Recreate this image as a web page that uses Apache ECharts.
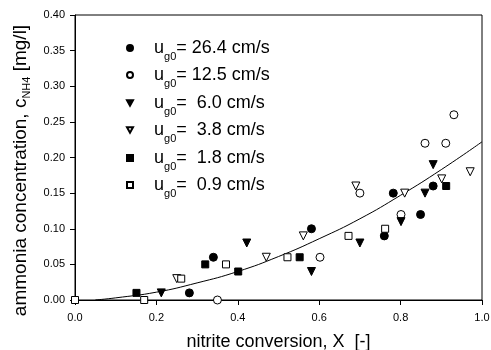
<!DOCTYPE html>
<html>
<head>
<meta charset="utf-8">
<script src="https://cdn.jsdelivr.net/npm/echarts@6/dist/echarts.min.js"></script>
<style>
  html, body { margin: 0; padding: 0; background: #fff; }
  #chart { width: 491px; height: 350px; }
</style>
</head>
<body>
<div id="chart"></div>
<script>
// measured points, one pair of arrays per gas velocity
const x264 = [0.281, 0.34, 0.581, 0.76, 0.782, 0.849, 0.88];
const y264 = [0.01, 0.06, 0.10, 0.09, 0.15, 0.12, 0.16];

const x125 = [0.35, 0.602, 0.70, 0.801, 0.86, 0.911, 0.931];
const y125 = [0.0, 0.06, 0.15, 0.12, 0.22, 0.22, 0.26];

const x60 = [0.212, 0.422, 0.581, 0.70, 0.801, 0.86, 0.88];
const y60 = [0.01, 0.08, 0.04, 0.08, 0.11, 0.15, 0.19];

const x38 = [0.25, 0.47, 0.561, 0.69, 0.81, 0.901, 0.971];
const y38 = [0.03, 0.06, 0.09, 0.16, 0.15, 0.17, 0.18];

const x18 = [0.151, 0.32, 0.401, 0.552, 0.912];
const y18 = [0.01, 0.05, 0.04, 0.06, 0.16];

const x09 = [0.0, 0.17, 0.261, 0.371, 0.522, 0.672, 0.762];
const y09 = [0.0, 0.0, 0.03, 0.05, 0.06, 0.09, 0.10];

// fitted curve
const fitX = [0.05, 0.1, 0.2, 0.3, 0.4, 0.5, 0.6, 0.7, 0.8, 0.9, 1.0];
const fitY = [0.0, 0.003, 0.011, 0.024, 0.040, 0.061, 0.086, 0.114, 0.147, 0.183, 0.222];

const seriesNames = ['26.4', '12.5', '6.0', '3.8', '1.8', '0.9'];
const downTriangles = ['6.0', '3.8'];

const FONT = '"Liberation Sans", Arial, sans-serif';
const DOWN_TRI = 'path://M0,0L10,0L5,9Z';

const zip = (xs, ys) => xs.map((x, i) => [x, ys[i]]);

const filled = {color: '#000', borderColor: '#000', borderWidth: 1, opacity: 1};
const hollow = {color: '#fff', borderColor: '#000', borderWidth: 1, opacity: 1};

function scatter(name, xs, ys, symbol, size, style, rotate) {
    return {
        name: name,
        type: 'scatter',
        data: zip(xs, ys),
        symbol: symbol,
        symbolSize: size,
        symbolRotate: rotate || 0,
        itemStyle: style,
        clip: false,
        z: 3
    };
}

// one legend block per row so the rows sit where they do in the figure
const rowCenters = [49, 76, 104, 131, 159, 186];
const legends = seriesNames.map((n, i) => ({
    data: [downTriangles.includes(n) ? {name: n, icon: DOWN_TRI} : {name: n}],
    left: 121,
    top: rowCenters[i] - 15,
    orient: 'vertical',
    itemWidth: 6,
    itemHeight: 6,
    symbolKeepAspect: true,
    selectedMode: false,
    formatter: name => '{p|}{m|u}{s|g0}{m|=' + (name.length < 4 ? '  ' : ' ') + name + ' cm/s}',
    textStyle: {
        rich: {
            p: {width: 16},
            m: {fontSize: 18, fontFamily: FONT, color: '#000'},
            s: {fontSize: 11, fontFamily: FONT, color: '#000', padding: [17, 0, 0, 0]}
        }
    }
}));

const chart = echarts.init(document.getElementById('chart'), null, {renderer: 'canvas'});

chart.setOption({
    animation: false,
    backgroundColor: '#fff',
    textStyle: {fontFamily: FONT},
    grid: {
        left: 75, right: 9, top: 15, bottom: 50,
        outerBoundsMode: 'none',
        show: true, borderColor: '#000', borderWidth: 1
    },
    legend: legends,
    xAxis: {
        type: 'value',
        min: 0, max: 1, interval: 0.2,
        name: 'nitrite conversion, X  [-]',
        nameLocation: 'middle',
        nameGap: 33,
        nameTextStyle: {fontSize: 18, color: '#000', fontFamily: FONT},
        axisLine: {lineStyle: {color: '#000', width: 1}},
        axisTick: {show: true, inside: false, length: 5, lineStyle: {color: '#000'}},
        axisLabel: {
            fontSize: 11, color: '#000', margin: 12,
            formatter: v => v.toFixed(1)
        },
        splitLine: {show: false}
    },
    yAxis: {
        type: 'value',
        min: 0, max: 0.4, interval: 0.05,
        name: 'ammonia concentration, c{s|NH4} [mg/l]',
        nameLocation: 'middle',
        nameRotate: 90,
        nameGap: 40,
        nameTextStyle: {
            fontSize: 19, color: '#000', fontFamily: FONT,
            padding: [0, 26, 0, 0],
            rich: {
                s: {fontSize: 11, color: '#000', fontFamily: FONT, padding: [13, 0, 0, 0]}
            }
        },
        axisLine: {lineStyle: {color: '#000', width: 1}},
        axisTick: {show: true, inside: false, length: 5, lineStyle: {color: '#000'}},
        axisLabel: {
            fontSize: 11, color: '#000', margin: 10,
            formatter: v => v.toFixed(2)
        },
        splitLine: {show: false}
    },
    series: [
        {
            type: 'line',
            data: zip(fitX, fitY),
            smooth: true,
            showSymbol: false,
            symbol: 'none',
            lineStyle: {color: '#000', width: 1},
            z: 2,
            silent: true
        },
        scatter('26.4', x264, y264, 'circle', 8, filled),
        scatter('12.5', x125, y125, 'circle', 8, hollow),
        scatter('6.0', x60, y60, 'triangle', 8, filled, 180),
        scatter('3.8', x38, y38, 'triangle', 8, hollow, 180),
        scatter('1.8', x18, y18, 'rect', 7, filled),
        scatter('0.9', x09, y09, 'rect', 7, hollow)
    ]
});
</script>
</body>
</html>
